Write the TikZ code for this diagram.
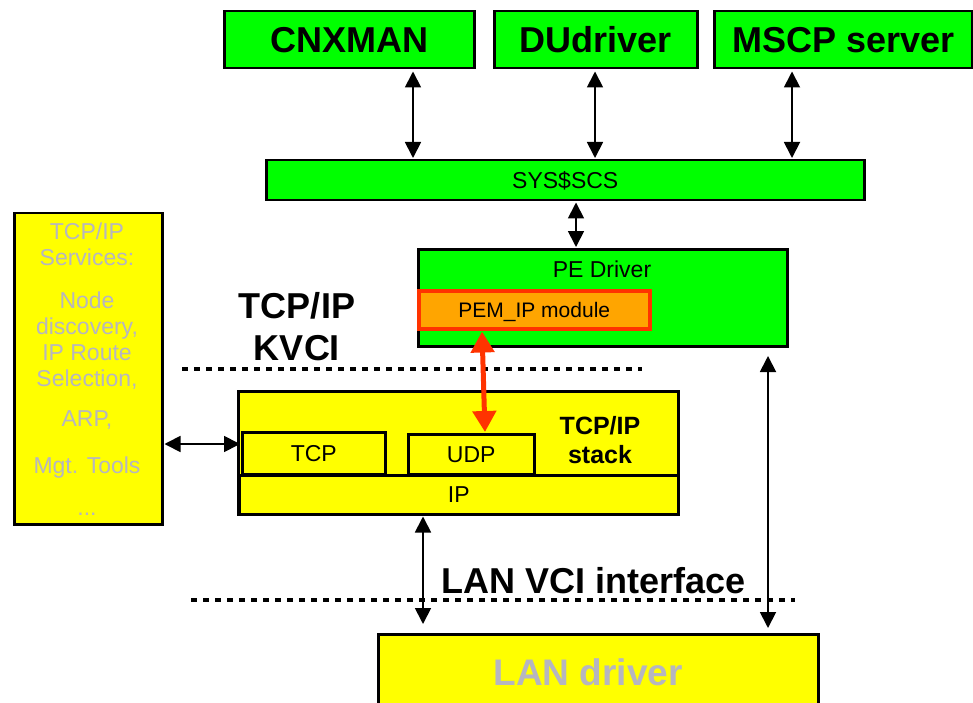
\documentclass[tikz,border=0pt]{standalone}
\usepackage{fontspec}
\setmainfont{Liberation Sans}
\usetikzlibrary{arrows.meta,calc}
\definecolor{pgreen}{RGB}{0,255,0}
\definecolor{pyellow}{RGB}{255,255,0}
\definecolor{porange}{RGB}{255,165,0}
\definecolor{pred}{RGB}{255,51,0}
\definecolor{pgray}{RGB}{182,182,192}
\begin{document}
\begin{tikzpicture}[x=1pt,y=-1pt,
  box/.style={draw=black,line width=2.5pt,anchor=north west,inner sep=0pt,text depth=0pt},
  bigbold/.style={font=\bfseries\fontsize{36}{42}\selectfont},
  small/.style={font=\fontsize{23}{26}\selectfont},
  biarrow/.style={line width=1.8pt,{Triangle[width=16pt,length=16pt]}-{Triangle[width=16pt,length=16pt]}},
  redarrow/.style={draw=pred,line width=5pt,{Triangle[width=23pt,length=21pt]}-{Triangle[width=23pt,length=21pt]}},
  dotline/.style={line width=4.5pt,dash pattern=on 5.5pt off 6.5pt}
]
\useasboundingbox (0,0) rectangle (973,703);

% top boxes
\node[box,fill=pgreen,minimum width=250pt,minimum height=57pt,bigbold] (cnx) at (223,10) {CNXMAN};
\node[box,fill=pgreen,minimum width=203pt,minimum height=57pt,bigbold] (du) at (493,10) {DUdriver};
\node[box,fill=pgreen,minimum width=258pt,minimum height=57pt,bigbold] (mscp) at (713,10) {MSCP server};

% SYS$SCS
\node[box,fill=pgreen,minimum width=598pt,minimum height=40pt,small] (sys) at (265,159) {SYS\$SCS};

% PE driver
\node[box,fill=pgreen,line width=3pt,minimum width=369pt,minimum height=97pt] (pe) at (417,248) {};
\node[small,anchor=base] (petxt) at (602,277) {PE Driver};
\node[box,fill=porange,draw=pred,line width=3.5pt,minimum width=231pt,minimum height=38pt,font=\fontsize{21}{25}\selectfont] (pem) at (417,289) {PEM\_IP module};

% left services box
\node[box,fill=pyellow,minimum width=148pt,minimum height=311pt] (svc) at (13,212) {};
\node[anchor=north,align=center,text=pgray,small,inner sep=0pt] (svctxt) at (87,223)
  {TCP/IP\\Services:\\[17pt]Node\\discovery,\\IP Route\\Selection,\\[14pt]ARP,\\[21pt]Mgt. Tools\\[16pt]...};

% TCP/IP KVCI label
\node[anchor=north,align=center,bigbold,inner sep=0pt] (kvci) at (297,292) {TCP/IP\\KVCI};

% TCP/IP stack
\node[box,fill=pyellow,line width=3pt,minimum width=440pt,minimum height=123pt] (stack) at (237,390) {};
\node[box,fill=pyellow,minimum width=143pt,minimum height=42pt,small] (tcp) at (241,431) {TCP};
\node[box,fill=pyellow,minimum width=126pt,minimum height=40pt,small] (udp) at (407,433) {UDP};
\node[box,fill=pyellow,minimum width=439pt,minimum height=39pt,small] (ip) at (238,474) {IP};
\node[anchor=north,align=center,inner sep=0pt,font=\bfseries\fontsize{25}{29}\selectfont] (stacktxt) at (600,416) {TCP/IP\\stack};

% LAN driver
\node[box,fill=pyellow,line width=3pt,minimum width=440pt,minimum height=90pt] (lan) at (377,633) {};
\node[anchor=base,text=pgray,font=\bfseries\fontsize{37}{42}\selectfont] (lantxt) at (588,685) {LAN driver};

% LAN VCI interface label
\node[anchor=base,bigbold] (lanvci) at (594,593) {LAN VCI interface};

% dotted lines
\coordinate (d1a) at (182,369);
\coordinate (d1b) at (642,369);
\coordinate (d2a) at (191,600);
\coordinate (d2b) at (795,600);
\draw[dotline] (d1a) -- (d1b);
\draw[dotline] (d2a) -- (d2b);

% connectors
\coordinate (xa) at (413,0);
\coordinate (xb) at (595,0);
\coordinate (xc) at (792,0);
\coordinate (xs) at (576,0);
\coordinate (xr) at (768,0);
\coordinate (xl) at (423,0);
\coordinate (ya) at (0,444);
\coordinate (r1) at (482,0);
\coordinate (r2) at (485,0);

\draw[biarrow,shorten <=2pt,shorten >=1pt] (cnx.south -| xa) -- (sys.north -| xa);
\draw[biarrow,shorten <=2pt,shorten >=1pt] (du.south -| xb) -- (sys.north -| xb);
\draw[biarrow,shorten <=2pt,shorten >=1pt] (mscp.south -| xc) -- (sys.north -| xc);
\draw[biarrow,shorten <=1pt,shorten >=1pt] (sys.south -| xs) -- (pe.north -| xs);
\draw[biarrow,shorten <=8pt,shorten >=5pt] (pe.south -| xr) -- (lan.north -| xr);
\draw[biarrow,shorten <=1pt,shorten >=9pt] (ip.south -| xl) -- (lan.north -| xl);
\draw[biarrow,shorten <=1pt,shorten >=1pt] (svc.east |- ya) -- (tcp.west |- ya);
\draw[redarrow,shorten <=1pt,shorten >=1pt] (pem.south -| r1) -- (udp.north -| r2);
\end{tikzpicture}
\end{document}
